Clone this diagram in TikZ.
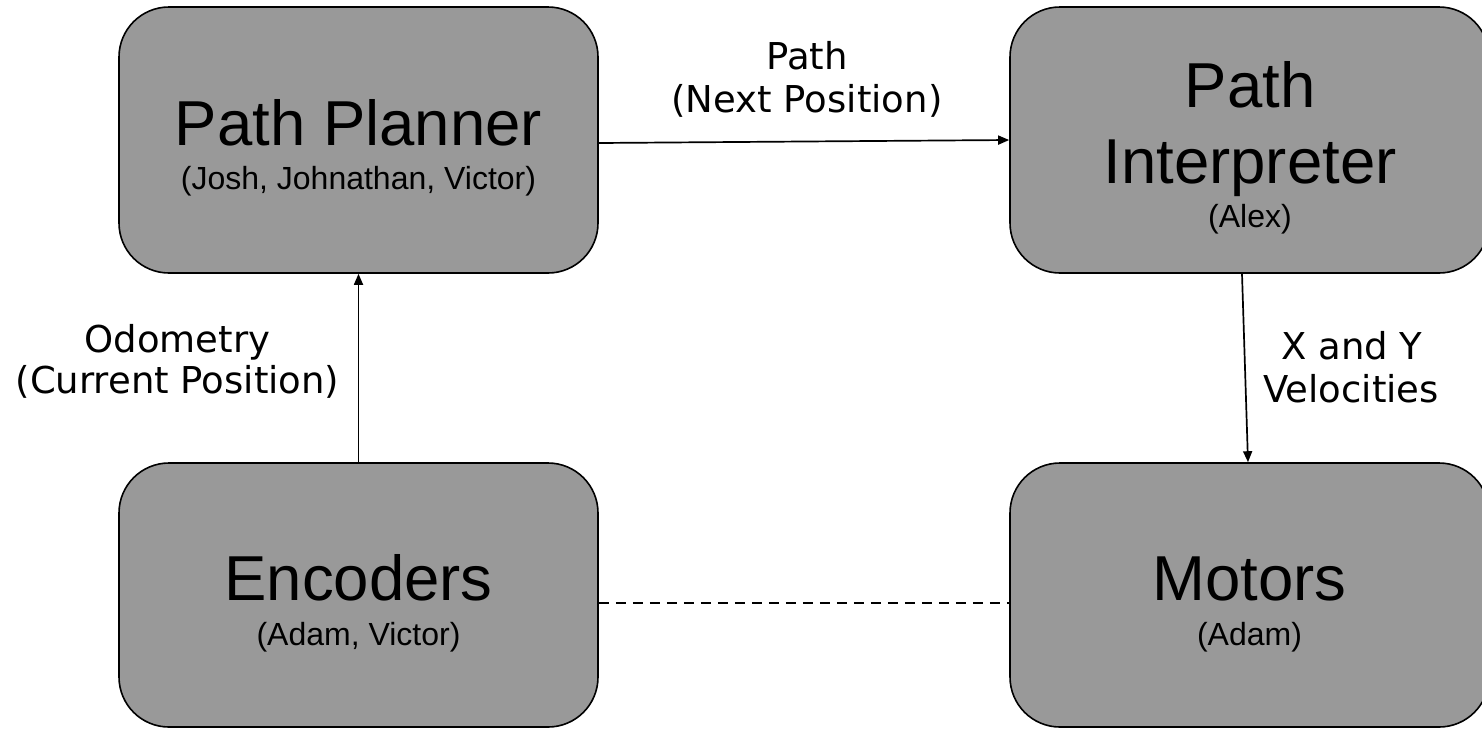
\documentclass[tikz,border=0pt]{standalone}
\usepackage{fontspec}
\setmainfont{Liberation Sans}
\newfontfamily\lblfont{DejaVu Sans}
\usetikzlibrary{arrows.meta}
\definecolor{boxgray}{HTML}{999999}
\tikzset{
  blockbox/.style={draw=black, line width=1.6pt, fill=boxgray, rounded corners=50pt, inner sep=0pt},
  bigtxt/.style={anchor=base, inner sep=0pt, font=\fontsize{63.5}{63.5}\selectfont},
  smalltxt/.style={anchor=base, inner sep=0pt, font=\fontsize{32}{32}\selectfont},
  edgetxt/.style={anchor=base, inner sep=0pt, font=\lblfont\fontsize{37}{37}\selectfont},
  flow/.style={draw=black, line width=1.7pt, -{Triangle[length=11pt,width=9pt]}},
  linkdash/.style={draw=black, line width=2.8pt, dash pattern=on 10pt off 7pt}
}
\begin{document}
\begin{tikzpicture}[x=1pt,y=-1pt]
\useasboundingbox (0,0) rectangle (1482,729);
% boxes
\node[blockbox, minimum width=479pt, minimum height=266pt] (pp) at (358.5,140) {};
\node[blockbox, minimum width=479pt, minimum height=266pt] (pi) at (1249.5,140) {};
\node[blockbox, minimum width=479pt, minimum height=264pt] (en) at (358.5,595) {};
\node[blockbox, minimum width=479pt, minimum height=264pt] (mo) at (1249.5,595) {};
% box texts
\node[bigtxt] (ppt) at (358.5,145) {Path Planner};
\node[smalltxt] (pps) at (358.5,189) {(Josh, Johnathan, Victor)};
\node[bigtxt] (pit1) at (1250,107) {Path};
\node[bigtxt] (pit2) at (1250,183) {Interpreter};
\node[smalltxt] (pis) at (1250,227) {(Alex)};
\node[bigtxt] (ent) at (358.5,600) {Encoders};
\node[smalltxt] (ens) at (358.5,645) {(Adam, Victor)};
\node[bigtxt] (mot) at (1249.5,600) {Motors};
\node[smalltxt] (mos) at (1249.5,645) {(Adam)};
% connectors
\draw[flow] ([yshift=-3pt]pp.east) -- (pi.west);
\draw[flow] ([xshift=-7.5pt]pi.south) -- ([xshift=-1.5pt]mo.north);
\draw[flow] (en.north) -- (pp.south);
\draw[linkdash] ([yshift=-8pt]en.east) -- ([yshift=-8pt]mo.west);
% connector labels
\node[edgetxt] (l1a) at (807,69) {Path};
\node[edgetxt] (l1b) at (807,112) {(Next Position)};
\node[edgetxt] (l2a) at (177.5,352) {Odometry};
\node[edgetxt] (l2b) at (177.5,393) {(Current Position)};
\node[edgetxt] (l3a) at (1352,359) {X and Y};
\node[edgetxt] (l3b) at (1351,402) {Velocities};
\end{tikzpicture}
\end{document}
